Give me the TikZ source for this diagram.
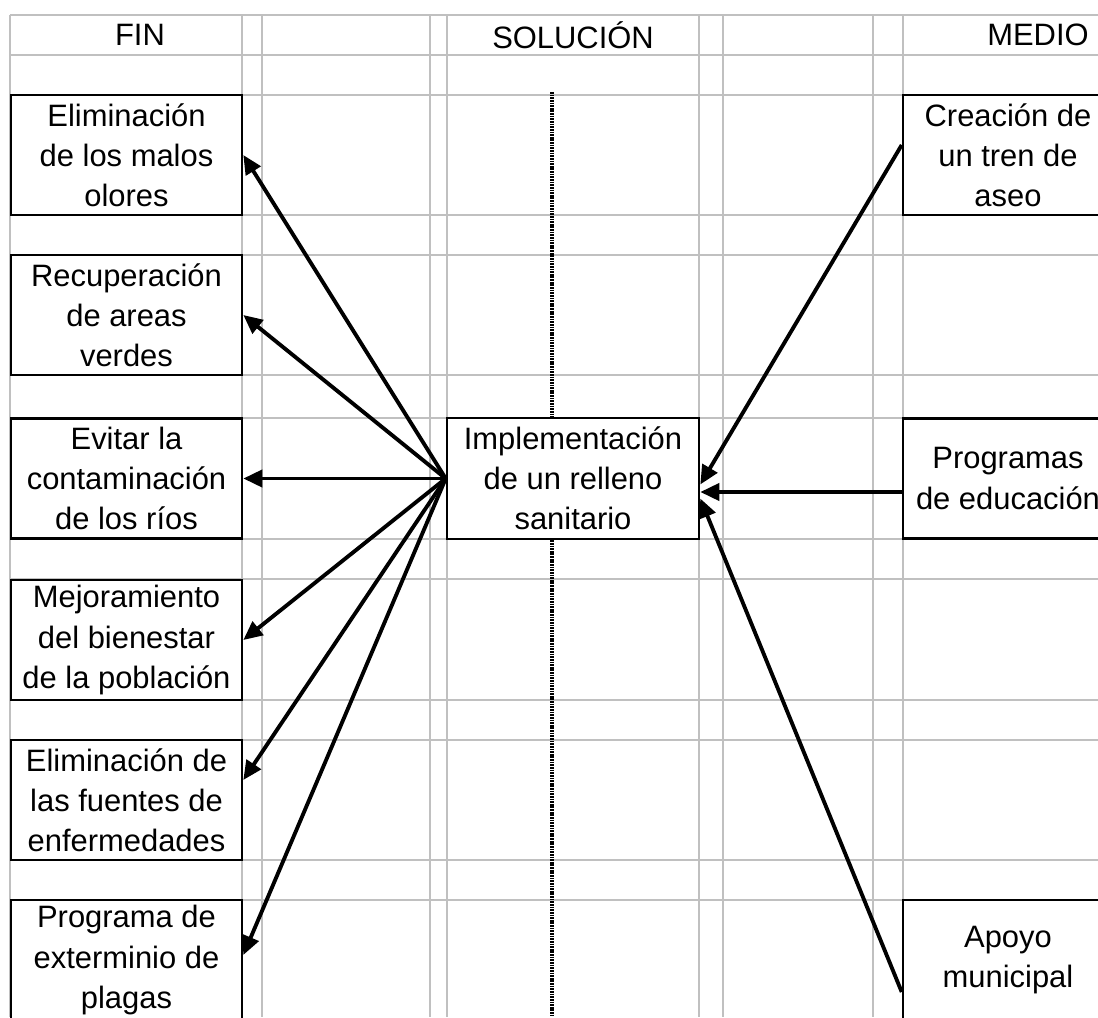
\documentclass[tikz,border=0pt]{standalone}
\usepackage{fontspec}
\setmainfont{Liberation Sans}
\usetikzlibrary{arrows.meta}

\definecolor{rejilla}{RGB}{192,192,192}

\begin{document}
\begin{tikzpicture}[
x=0.02cm,y=-0.02cm,
font=\fontsize{17.6}{22.8}\selectfont,
caja/.style={draw,line width=1.5pt,fill=white,inner sep=0pt,align=center,minimum height=2.4cm},
flecha/.style={line width=2.2pt,-{Triangle[length=0.38cm,width=0.34cm]}},
linea/.style={rejilla,line width=1.3pt},
punteada/.style={line width=2.2pt,dash pattern=on 1pt off 0.5pt}
]

\useasboundingbox (0,0) rectangle (1098,1017);
\clip (0,0) rectangle (1098,1017);

%%%%%%%%%%%%%%%%%%%%%%%%%%%%%%%%%%%%%%%%%%%%%%%%%%%%%%%%%%
% HOJA (REJILLA)
%%%%%%%%%%%%%%%%%%%%%%%%%%%%%%%%%%%%%%%%%%%%%%%%%%%%%%%%%%

\foreach \y in {15,55,95,215,255,375,418,539,579,700,740,860,900}
\draw[linea] (10,\y) -- (1098,\y);

\foreach \x in {10,242,262,430,447,699,723,873,903}
\draw[linea] (\x,15) -- (\x,1017);

%%%%%%%%%%%%%%%%%%%%%%%%%%%%%%%%%%%%%%%%%%%%%%%%%%%%%%%%%%
% TITULOS
%%%%%%%%%%%%%%%%%%%%%%%%%%%%%%%%%%%%%%%%%%%%%%%%%%%%%%%%%%

\node (fin) at (140,35) {FIN};
\node (solucion) at (573,35) {SOLUCIÓN};
\node (medio) at (1038,35) {MEDIO};

%%%%%%%%%%%%%%%%%%%%%%%%%%%%%%%%%%%%%%%%%%%%%%%%%%%%%%%%%%
% SOLUCION
%%%%%%%%%%%%%%%%%%%%%%%%%%%%%%%%%%%%%%%%%%%%%%%%%%%%%%%%%%

\node[
caja,
minimum width=5.04cm,
minimum height=2.42cm
](sol)
at (573,478.5)
{Implementación\\de un relleno\\sanitario};

\coordinate (guia) at (552,92);
\draw[punteada] (guia) -- (guia |- sol.north);
\draw[punteada] (guia |- sol.south) -- (552,1017);

%%%%%%%%%%%%%%%%%%%%%%%%%%%%%%%%%%%%%%%%%%%%%%%%%%%%%%%%%%
% FINES
%%%%%%%%%%%%%%%%%%%%%%%%%%%%%%%%%%%%%%%%%%%%%%%%%%%%%%%%%%

\node[caja,minimum width=4.62cm](olores) at (126.5,155)
{Eliminación\\de los malos\\olores};

\node[caja,minimum width=4.62cm](verdes) at (126.5,315)
{Recuperación\\de areas\\verdes};

\node[caja,minimum width=4.62cm](rios) at (126.5,478.5)
{Evitar la\\contaminación\\de los ríos};

\node[caja,minimum width=4.62cm](bienestar) at (126.5,640)
{Mejoramiento\\del bienestar\\de la población};

\node[caja,minimum width=4.62cm](fuentes) at (126.5,800)
{Eliminación de\\las fuentes de\\enfermedades};

\node[caja,minimum width=4.62cm](plagas) at (126.5,960)
{Programa de\\exterminio de\\plagas};

%%%%%%%%%%%%%%%%%%%%%%%%%%%%%%%%%%%%%%%%%%%%%%%%%%%%%%%%%%
% MEDIOS
%%%%%%%%%%%%%%%%%%%%%%%%%%%%%%%%%%%%%%%%%%%%%%%%%%%%%%%%%%

\node[caja,minimum width=4.2cm](aseo) at (1008,155)
{Creación de\\un tren de\\aseo};

\node[caja,minimum width=4.2cm](educacion) at (1008,478.5)
{Programas\\de educación};

\node[caja,minimum width=4.2cm](apoyo) at (1008,960)
{Apoyo\\municipal};

%%%%%%%%%%%%%%%%%%%%%%%%%%%%%%%%%%%%%%%%%%%%%%%%%%%%%%%%%%
% FLECHAS
%%%%%%%%%%%%%%%%%%%%%%%%%%%%%%%%%%%%%%%%%%%%%%%%%%%%%%%%%%

\draw[flecha] (sol.west)--(olores.east);
\draw[flecha] (sol.west)--(verdes.east);
\draw[flecha] (sol.west)--(rios.east);
\draw[flecha] (sol.west)--(bienestar.east);
\draw[flecha] (sol.west)--([yshift=0.4cm]fuentes.east);
\draw[flecha] (sol.west)--([yshift=0.1cm]plagas.east);

\draw[flecha] ([yshift=0.2cm]aseo.west)--([yshift=-0.12cm]sol.east);
\draw[flecha] ([yshift=-0.27cm]educacion.west)--([yshift=-0.27cm]sol.east);
\draw[flecha] ([yshift=-0.64cm]apoyo.west)--([yshift=-0.4cm]sol.east);

\end{tikzpicture}
\end{document}
